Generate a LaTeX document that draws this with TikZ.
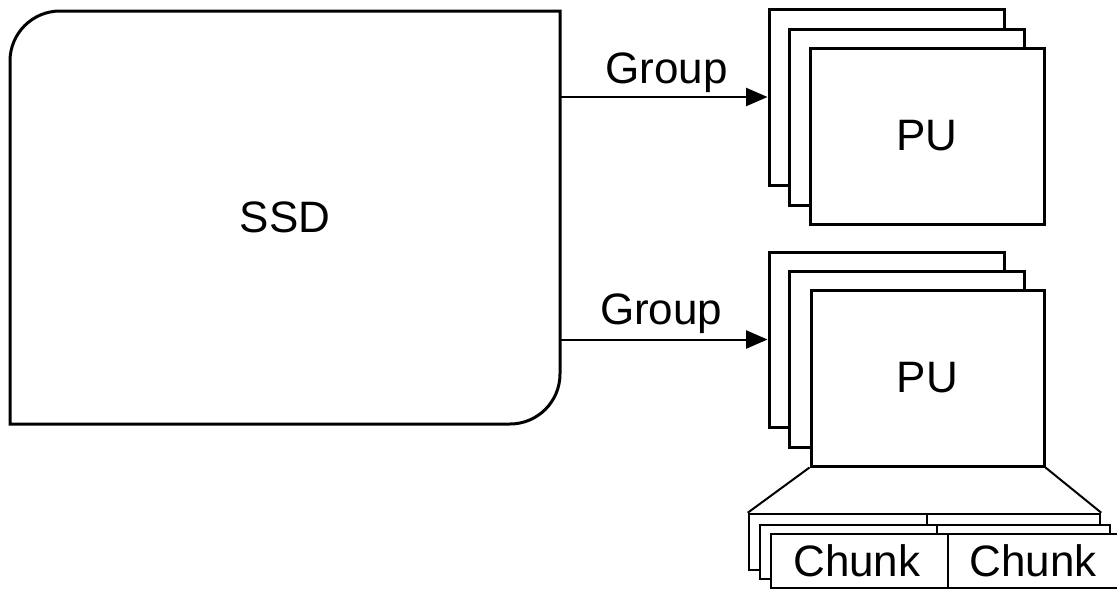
\documentclass[tikz,border=0pt]{standalone}
\usepackage{fontspec}
\setmainfont{Liberation Sans}
\usetikzlibrary{arrows.meta,fit}
\tikzset{
  box/.style={draw=black, fill=white, line width=2.25pt, inner sep=0pt},
  chunkbox/.style={draw=black, fill=white, line width=1.9pt, inner sep=0pt},
  conn/.style={draw=black, line width=1.5pt, -{Triangle[length=16pt,width=13.5pt]}},
  thin/.style={draw=black, line width=1.5pt},
  lbl/.style={font=\fontsize{33}{39}\selectfont},
}
\begin{document}
\begin{tikzpicture}[x=0.75pt,y=-0.75pt]
\useasboundingbox (0,0) rectangle (1117,590);
% SSD
\draw[line width=2.25pt] (10,424) -- (10,61) .. controls (10,33.4) and (32.4,11) .. (60,11)
  -- (560,11) -- (560,374) .. controls (560,401.6) and (537.6,424) .. (510,424) -- cycle;
\node[fit={(10,11) (560,424)}, inner sep=0pt, label={[lbl]center:SSD}] (ssd) {};
% upper PU stack
\node[box, fit={(769,9) (1004,185)}] (pua) {};
\node[box, fit={(789,29) (1024,205)}] (pub) {};
\node[box, fit={(810,48) (1044,224)}, label={[lbl]center:PU}] (puc) {};
% lower PU stack
\node[box, fit={(769,252) (1004,427)}] (pud) {};
\node[box, fit={(789,271) (1024,447)}] (pue) {};
\node[box, fit={(811,290) (1044,466)}, label={[lbl]center:PU}] (puf) {};
% chunk layers
\node[chunkbox, fit={(749,514) (927,570)}] (c1l) {};
\node[chunkbox, fit={(927,514) (1100,570)}] (c1r) {};
\node[chunkbox, fit={(760,525) (937,579)}] (c2l) {};
\node[chunkbox, fit={(937,525) (1110,579)}] (c2r) {};
\node[chunkbox, fit={(771,534) (948,588)}, label={[lbl, xshift=-2pt]center:Chunk}] (c3l) {};
\node[chunkbox, fit={(948,534) (1121,588)}, label={[lbl, xshift=-1pt]center:Chunk}] (c3r) {};
% trapezoid
\draw[thin] (puf.south west) -- (c1l.north west);
\draw[thin] (puf.south east) -- (c1r.north east);
% connectors
\draw[conn] (ssd.east |- pua.west) -- node[midway, anchor=base, yshift=10pt, xshift=2pt, lbl] {Group} (pua.west);
\draw[conn] (ssd.east |- pud.west) -- node[midway, anchor=base, yshift=11pt, xshift=-2pt, lbl] {Group} (pud.west);
\end{tikzpicture}
\end{document}
